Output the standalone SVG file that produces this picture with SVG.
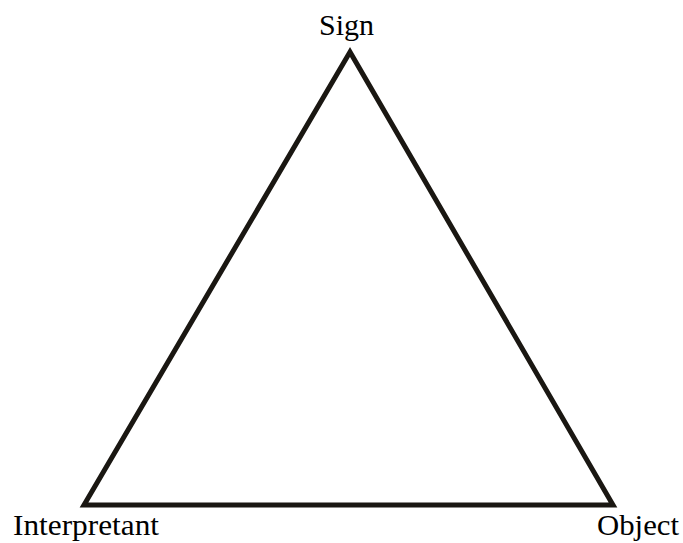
<svg xmlns="http://www.w3.org/2000/svg" width="683" height="543" viewBox="0 0 683 543">
<style>
.lbl{font-family:"Liberation Serif","Times New Roman",serif;font-size:29px;fill:#000}
.edge{fill:none;stroke:#1a1712;stroke-width:5;stroke-linejoin:miter}
</style>
<rect width="683" height="543" fill="#fff"/>
<g id="connectors">
<polygon class="edge" points="350,52 84,505 613,505"/>
</g>
<g id="sign"><text class="lbl" x="319" y="35" textLength="55" lengthAdjust="spacingAndGlyphs">Sign</text></g>
<g id="interpretant"><text class="lbl" x="13" y="535" textLength="146" lengthAdjust="spacingAndGlyphs">Interpretant</text></g>
<g id="object"><text class="lbl" x="597" y="535" textLength="82" lengthAdjust="spacingAndGlyphs">Object</text></g>
</svg>
